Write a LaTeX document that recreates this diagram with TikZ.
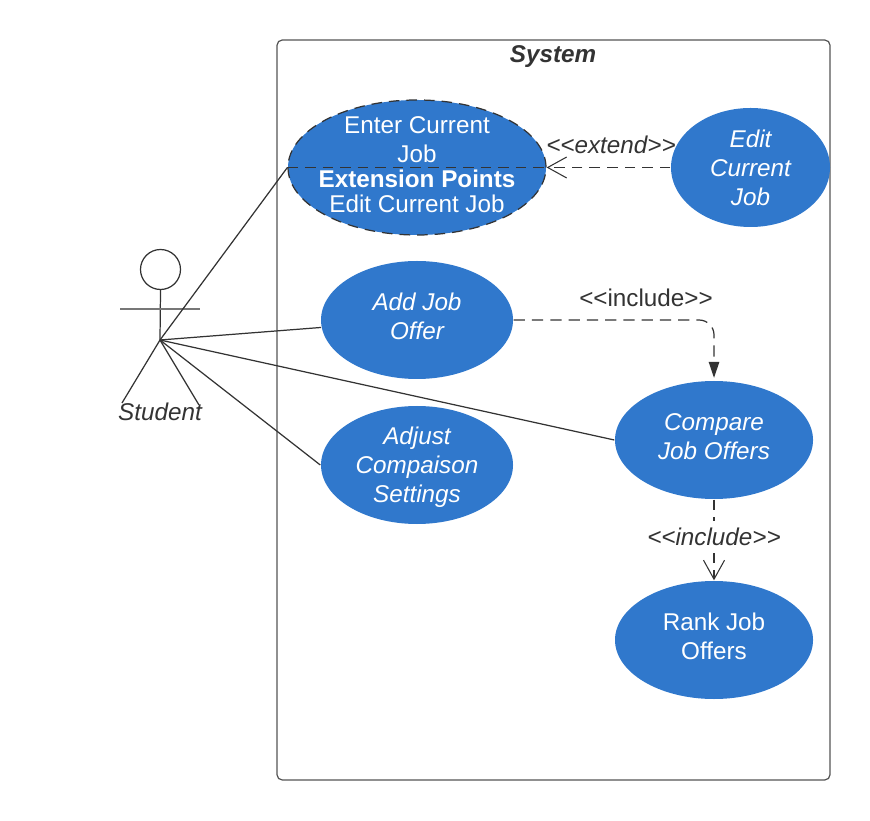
\documentclass[tikz,border=0pt]{standalone}
\usepackage{fontspec}
\setmainfont{Liberation Sans}
\usetikzlibrary{positioning, arrows.meta, shapes.geometric}
\definecolor{caseCol}{HTML}{3078CC}
\definecolor{lineCol}{HTML}{333333}
\definecolor{frameCol}{HTML}{555555}

\begin{document}
\begin{tikzpicture}[
    % Node styles
    usecase/.style={
        ellipse,
        fill=caseCol,
        text=white,
        inner sep=-6mm,
        font=\fontsize{6.9}{8.25}\selectfont,
        align=center
    },
    tag/.style={
        inner sep=1pt,
        text=lineCol,
        font=\fontsize{6.9}{8.25}\selectfont
    },
    assoc/.style={
        line width=0.35pt,
        draw=lineCol
    },
    openarrow/.style={
        -{Straight Barb[length=1.9mm,width=2.1mm,line width=0.3pt]},
        line width=0.35pt,
        draw=lineCol,
        dash pattern=on 3pt off 2pt
    },
    filledarrow/.style={
        -{Triangle[length=1.6mm,width=1.05mm]},
        shorten >=0.7pt,
        line width=0.35pt,
        draw=lineCol,
        dash pattern=on 3.2pt off 2pt,
        rounded corners=0.15cm
    }
]
    \useasboundingbox (0, 0) rectangle (8.7, 8.2);

    % ==== SYSTEM FRAME ====
    \node[draw=frameCol, rounded corners=1.5pt, line width=0.35pt, minimum width=5.53cm, minimum height=7.4cm, inner sep=0pt] (system) at (5.535, 4.1) {};
    \node[tag, font=\fontsize{6.9}{8.25}\selectfont\bfseries\itshape] (systemTitle) at (5.53, 7.63) {System};

    % ==== USE CASES ====
    \node[usecase, minimum width=2.58cm, minimum height=1.35cm, draw=lineCol, line width=0.35pt, densely dashed, text depth=1.7pt] (enter) at (4.17, 6.525) {Enter Current\\Job\\[-1.1pt]\textbf{Extension Points}\\[-1.4pt]Edit Current Job};
    \node[usecase, minimum width=1.59cm, minimum height=1.19cm, font=\fontsize{6.9}{8.25}\selectfont\itshape, text depth=-2.3pt] (edit) at (7.505, 6.525) {Edit\\Current\\Job};
    \node[usecase, minimum width=1.92cm, minimum height=1.18cm, font=\fontsize{6.9}{8.25}\selectfont\itshape, text depth=2.3pt] (add) at (4.17, 5) {Add Job\\Offer};
    \node[usecase, minimum width=1.92cm, minimum height=1.18cm, font=\fontsize{6.9}{8.25}\selectfont\itshape, text depth=-2.55pt] (adjust) at (4.17, 3.55) {Adjust\\Compaison\\Settings};
    \node[usecase, minimum width=1.98cm, minimum height=1.18cm, font=\fontsize{6.9}{8.25}\selectfont\itshape, text depth=1.7pt] (compare) at (7.14, 3.8) {Compare\\Job Offers};
    \node[usecase, minimum width=1.98cm, minimum height=1.18cm, text depth=2.3pt] (rank) at (7.14, 1.8) {Rank Job\\Offers};

    % Divider of the extension points
    \draw[assoc, densely dashed] (enter.west) -- (enter.east);

    % ==== ACTOR ====
    \node[circle, draw=lineCol, line width=0.35pt, minimum size=0.4cm, inner sep=0pt] (head) at (1.605, 5.505) {};
    \coordinate (hip) at (1.6, 4.8);
    \coordinate (armLeft) at (1.2, 5.11);
    \coordinate (armRight) at (2.0, 5.11);
    \coordinate (legLeft) at (1.22, 4.17);
    \coordinate (legRight) at (1.99, 4.15);
    \draw[assoc] (head.south) -- (hip);
    \draw[assoc, draw=frameCol!80] (armLeft) -- (armRight);
    \draw[assoc] (hip) -- (legLeft);
    \draw[assoc] (hip) -- (legRight);
    \node[tag, font=\fontsize{6.9}{8.25}\selectfont\itshape] (student) at (1.6, 4.08) {Student};

    % Actor to use cases
    \draw[assoc] (hip) -- (enter.west);
    \draw[assoc] (hip) -- (add);
    \draw[assoc] (hip) -- (adjust.west);
    \draw[assoc] (hip) -- (compare.west);

    % ==== RELATIONS ====
    \draw[openarrow] (edit.west) -- (enter.east);
    \node[tag, font=\fontsize{6.9}{8.25}\selectfont\itshape] (extendTag) at (6.11, 6.75) {{<}{<}extend{>}{>}};

    \draw[filledarrow] (add.east) -| (compare.north);
    \node[tag] (includeTag) at (6.46, 5.22) {{<}{<}include{>}{>}};

    \draw[openarrow] (compare.south) -- (rank.north);
    \node[tag, fill=white, inner sep=2pt, font=\fontsize{6.9}{8.25}\selectfont\itshape] (includeTagTwo) at (7.14, 2.83) {{<}{<}include{>}{>}};

\end{tikzpicture}
\end{document}
